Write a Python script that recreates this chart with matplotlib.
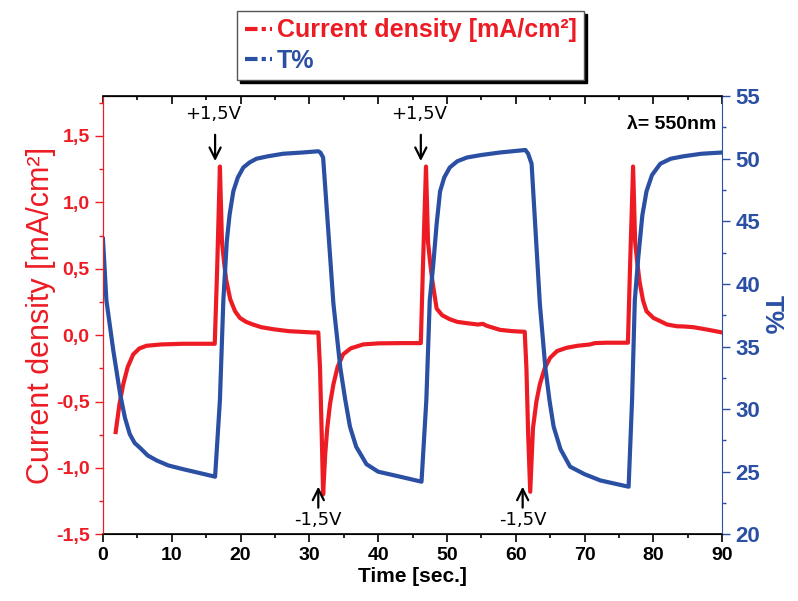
import matplotlib
matplotlib.use('Agg')
import matplotlib.pyplot as plt
from matplotlib.ticker import MultipleLocator, FuncFormatter

# current density [mA/cm2] vs time
t_cur = [1.85, 2.4, 2.95, 3.6, 4.4, 5.3, 6.35, 8.5, 11.65, 16.25,
         16.6, 17.0, 17.3, 17.6, 17.9, 18.5, 19.2, 19.9, 20.8, 21.8, 23.0, 24.7, 27.0, 30.5, 31.3,
         31.55, 31.8, 32.0, 32.3, 32.6, 33.0, 33.5, 34.1, 34.9, 36.0, 37.8, 40.0, 43.2, 46.2,
         46.5, 46.95, 47.25, 47.55, 47.9, 48.5, 49.3, 50.4, 51.5, 52.9, 54.5, 55.2, 55.8, 57.7, 59.5, 61.3,
         61.55, 61.8, 62.1, 62.5, 63.0, 63.5, 64.2, 65.0, 66.0, 67.4, 69.0, 70.8, 71.5, 73.2, 76.3,
         76.6, 77.05, 77.35, 77.65, 78.0, 78.5, 79.0, 80.0, 81.0, 82.0, 83.4, 84.5, 85.8, 88.0, 90.0]
i_cur = [-0.73, -0.52, -0.37, -0.24, -0.145, -0.1, -0.08, -0.07, -0.065, -0.065,
         0.5, 1.27, 0.7, 0.55, 0.42, 0.27, 0.18, 0.13, 0.1, 0.08, 0.06, 0.045, 0.03, 0.02, 0.02,
         -0.25, -0.75, -1.2, -0.9, -0.7, -0.52, -0.37, -0.24, -0.145, -0.1, -0.07, -0.062, -0.06, -0.06,
         0.5, 1.27, 0.7, 0.55, 0.4, 0.2, 0.15, 0.12, 0.1, 0.09, 0.08, 0.085, 0.07, 0.04, 0.03, 0.025,
         -0.25, -0.75, -1.18, -0.7, -0.5, -0.37, -0.25, -0.17, -0.12, -0.095, -0.08, -0.07, -0.06, -0.057, -0.057,
         0.5, 1.27, 0.7, 0.55, 0.4, 0.26, 0.18, 0.13, 0.105, 0.08, 0.067, 0.065, 0.06, 0.04, 0.02]

# transmittance T% vs time
t_tr = [0.0, 0.5, 1.5, 2.5, 3.2, 3.9, 4.6, 5.4, 6.5, 7.8, 9.5, 11.65, 14.0, 16.3,
        17.0, 17.5, 17.8, 18.0, 18.4, 18.95, 19.6, 20.4, 21.3, 22.3, 24.0, 26.2, 29.0, 31.3,
        31.6, 32.0, 33.5, 34.5, 35.2, 35.9, 36.8, 38.3, 40.0, 43.2, 46.3,
        47.0, 47.5, 48.0, 48.5, 49.0, 49.6, 50.4, 51.5, 52.9, 55.0, 57.7, 61.4,
        61.8, 62.3, 63.5, 64.3, 64.9, 65.5, 66.5, 67.9, 70.0, 72.3, 76.4,
        76.9, 77.3, 77.8, 78.4, 79.0, 79.8, 81.0, 82.5, 84.4, 87.0, 90.0]
trans = [43.6, 38.7, 34.7, 31.2, 29.3, 28.0, 27.3, 26.9, 26.3, 25.9, 25.5, 25.2, 24.9, 24.6,
         30.7, 38.7, 41.5, 43.4, 45.5, 47.4, 48.5, 49.3, 49.7, 50.0, 50.2, 50.4, 50.5, 50.6,
         50.5, 50.1, 38.4, 33.3, 30.8, 28.6, 27.0, 25.6, 25.0, 24.6, 24.2,
         30.7, 38.7, 41.5, 44.8, 47.4, 48.5, 49.3, 49.8, 50.1, 50.3, 50.5, 50.7,
         50.4, 49.6, 38.4, 33.3, 30.7, 28.6, 26.8, 25.4, 24.8, 24.3, 23.8,
         30.7, 38.7, 42.1, 45.5, 47.4, 48.7, 49.6, 50.0, 50.2, 50.4, 50.5]

red = '#ed1c24'
blue = '#2b4fa3'

fig = plt.figure(figsize=(7.98, 6.01), dpi=100)
ax = fig.add_axes([0.129, 0.111, 0.776, 0.729])
ax2 = ax.twinx()

ax.plot(t_cur, i_cur, color=red, lw=3, solid_joinstyle='round')
ax2.plot(t_tr, trans, color=blue, lw=3, solid_joinstyle='round')

ax.set_xlim(0, 90)
ax.set_ylim(-1.5, 1.8)
ax2.set_ylim(20, 55)

comma = FuncFormatter(lambda v, p: ('%.1f' % v).replace('.', ','))
ax.xaxis.set_major_locator(MultipleLocator(10))
ax.xaxis.set_minor_locator(MultipleLocator(5))
ax.yaxis.set_major_locator(MultipleLocator(0.5))
ax.yaxis.set_minor_locator(MultipleLocator(0.25))
ax.yaxis.set_major_formatter(comma)
ax2.yaxis.set_major_locator(MultipleLocator(5))
ax2.yaxis.set_minor_locator(MultipleLocator(2.5))

ax.tick_params(axis='x', which='major', length=6, width=1.2, labelsize=14, pad=3)
ax.tick_params(axis='x', which='minor', length=3, width=1.2)
ax.tick_params(axis='y', which='major', length=6, width=1, colors=red, labelsize=14)
ax.tick_params(axis='y', which='minor', length=3, width=1, colors=red)
ax2.tick_params(axis='y', which='major', length=6, width=1, colors=blue, labelsize=16)
ax2.tick_params(axis='y', which='minor', length=3, width=1, colors=blue)
for lab in ax.get_xticklabels() + ax.get_yticklabels() + ax2.get_yticklabels():
    lab.set_fontweight('bold')
    lab.set_family('Liberation Sans')

top = ax.secondary_xaxis('top')
top.xaxis.set_major_locator(MultipleLocator(10))
top.xaxis.set_minor_locator(MultipleLocator(5))
top.tick_params(which='major', direction='in', length=6, width=1.2, labeltop=False)
top.tick_params(which='minor', direction='in', length=3, width=1.2)

ax.spines['left'].set_color(red)
ax2.spines['left'].set_color(red)
ax2.spines['right'].set_color(blue)
ax.spines['right'].set_visible(False)
for s in ['top', 'bottom']:
    ax.spines[s].set_linewidth(1.2)

ax.set_xlabel('Time [sec.]', fontsize=15, fontweight='bold', family='Liberation Sans', labelpad=2)
ax.set_ylabel('Current density [mA/cm²]', fontsize=22, color=red, family='Liberation Sans', labelpad=0)
ax2.set_ylabel('T%', fontsize=19, color=blue, fontweight='bold', family='Liberation Sans',
               rotation=270, va='bottom', labelpad=0)

# voltage step annotations
for tx in [16.2, 46.1]:
    ax.annotate('', xy=(tx + 0.1, 1.29), xytext=(tx + 0.1, 1.53),
                arrowprops=dict(arrowstyle='->', color='black', lw=1.6, mutation_scale=20))
    ax.text(tx - 0.2, 1.665, '+1,5V', ha='center', va='center', fontsize=13)
for tx in [31.3, 61.0]:
    ax.annotate('', xy=(tx, -1.12), xytext=(tx, -1.32),
                arrowprops=dict(arrowstyle='->', color='black', lw=1.6, mutation_scale=20))
    ax.text(tx, -1.39, '-1,5V', ha='center', va='center', fontsize=13)

ax.text(0.99, 0.955, 'λ= 550nm', transform=ax.transAxes, ha='right', va='top',
        fontsize=14, fontweight='bold', family='Liberation Sans')

h1, = ax.plot([], [], color=red, lw=3, dashes=(3, 1, 1, 1))
h2, = ax.plot([], [], color=blue, lw=3, dashes=(3, 1, 1, 1))
leg = fig.legend([h1, h2], ['Current density [mA/cm²]', 'T%'], loc='upper left',
                 bbox_to_anchor=(0.297, 0.982), frameon=True, fancybox=False,
                 shadow={'color': 'black', 'alpha': 1}, handlelength=1.1,
                 handletextpad=0.2, borderpad=0.3, labelspacing=0.25, borderaxespad=0,
                 prop=dict(size=18, weight='bold', family='Liberation Sans'))
leg.get_frame().set_edgecolor('#555555')
leg.get_frame().set_linewidth(1)
for txt, c in zip(leg.get_texts(), [red, blue]):
    txt.set_color(c)

fig.savefig('out.png', dpi=100)
